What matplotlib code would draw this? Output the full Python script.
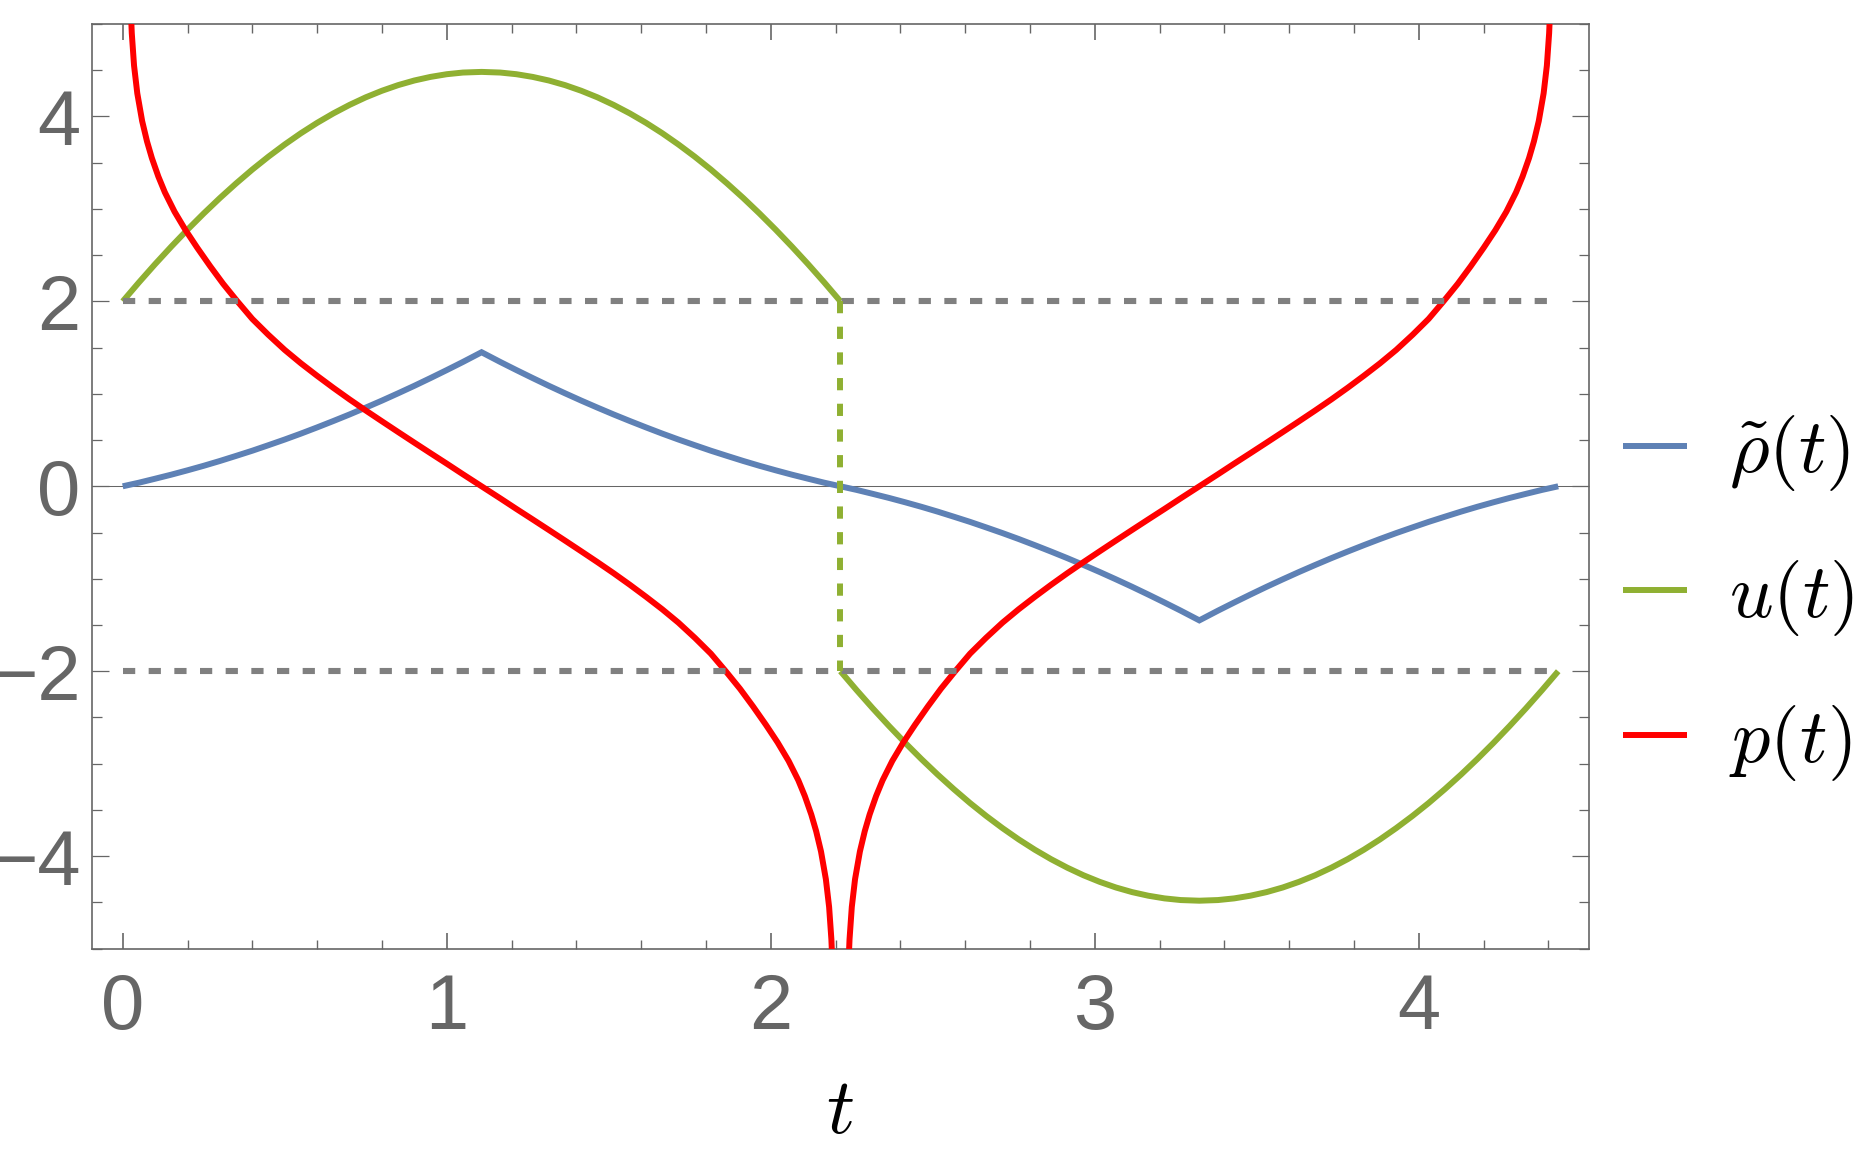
import matplotlib
matplotlib.use('Agg')
import matplotlib.pyplot as plt
from matplotlib.ticker import MultipleLocator
from matplotlib.lines import Line2D

# ---------------- data ----------------
# u(t), first half (t from 0 up to the jump)
u1_t = [0, 0.05, 0.10, 0.15, 0.20, 0.25, 0.30, 0.35, 0.40, 0.45, 0.50, 0.55,
        0.60, 0.65, 0.70, 0.75, 0.80, 0.85, 0.90, 0.95, 1.00, 1.05, 1.1075,
        1.165, 1.215, 1.265, 1.315, 1.365, 1.415, 1.465, 1.515, 1.565, 1.615,
        1.665, 1.715, 1.765, 1.815, 1.865, 1.915, 1.965, 2.015, 2.065, 2.115,
        2.165, 2.215]
u1 = [2.0, 2.205, 2.403, 2.593, 2.776, 2.951, 3.118, 3.276, 3.426, 3.566,
      3.697, 3.819, 3.931, 4.033, 4.125, 4.207, 4.278, 4.339, 4.389, 4.428,
      4.457, 4.475, 4.482,
      4.475, 4.457, 4.428, 4.389, 4.339, 4.278, 4.207, 4.125, 4.033, 3.931,
      3.819, 3.697, 3.566, 3.426, 3.276, 3.118, 2.951, 2.776, 2.593, 2.403,
      2.205, 2.0]
# u(t), second half
u2_t = [2.215, 2.265, 2.315, 2.365, 2.415, 2.465, 2.515, 2.565, 2.615, 2.665,
        2.715, 2.765, 2.815, 2.865, 2.915, 2.965, 3.015, 3.065, 3.115, 3.165,
        3.215, 3.265, 3.3225,
        3.38, 3.43, 3.48, 3.53, 3.58, 3.63, 3.68, 3.73, 3.78, 3.83, 3.88,
        3.93, 3.98, 4.03, 4.08, 4.13, 4.18, 4.23, 4.28, 4.33, 4.38, 4.43]
u2 = [-2.0, -2.205, -2.403, -2.593, -2.776, -2.951, -3.118, -3.276, -3.426,
      -3.566, -3.697, -3.819, -3.931, -4.033, -4.125, -4.207, -4.278, -4.339,
      -4.389, -4.428, -4.457, -4.475, -4.482,
      -4.475, -4.457, -4.428, -4.389, -4.339, -4.278, -4.207, -4.125, -4.033,
      -3.931, -3.819, -3.697, -3.566, -3.426, -3.276, -3.118, -2.951, -2.776,
      -2.593, -2.403, -2.205, -2.0]

# rho~(t) (same time samples as u)
r1_t = u1_t
r1 = [0.0, 0.039, 0.082, 0.126, 0.173, 0.222, 0.274, 0.329, 0.385, 0.445,
      0.506, 0.570, 0.637, 0.706, 0.777, 0.851, 0.927, 1.006, 1.087, 1.171,
      1.257, 1.345, 1.45,
      1.345, 1.257, 1.171, 1.087, 1.006, 0.927, 0.851, 0.777, 0.706, 0.637,
      0.570, 0.506, 0.445, 0.385, 0.329, 0.274, 0.222, 0.173, 0.126, 0.082,
      0.039, 0.0]
r2_t = u2_t
r2 = [0.0, -0.039, -0.082, -0.126, -0.173, -0.222, -0.274, -0.329, -0.385,
      -0.445, -0.506, -0.570, -0.637, -0.706, -0.777, -0.851, -0.927, -1.006,
      -1.087, -1.171, -1.257, -1.345, -1.45,
      -1.345, -1.257, -1.171, -1.087, -1.006, -0.927, -0.851, -0.777, -0.706,
      -0.637, -0.570, -0.506, -0.445, -0.385, -0.329, -0.274, -0.222, -0.173,
      -0.126, -0.082, -0.039, 0.0]

# p(t), first branch (from +inf near t=0 down to -inf near the jump)
p1_t = [0.018, 0.022, 0.028, 0.035, 0.045, 0.06, 0.075, 0.09, 0.11, 0.13,
        0.16, 0.194, 0.23, 0.27, 0.31, 0.354, 0.40, 0.449, 0.50, 0.55, 0.60,
        0.65, 0.70, 0.75, 0.80, 0.85, 0.90, 0.95, 1.00, 1.05, 1.1075,
        1.165, 1.215, 1.265, 1.315, 1.365, 1.415, 1.465, 1.515, 1.565, 1.615,
        1.665, 1.715, 1.766, 1.815, 1.861, 1.905, 1.945, 1.985, 2.021, 2.055,
        2.085, 2.105, 2.125, 2.14, 2.155, 2.17, 2.18, 2.187, 2.193, 2.197]
p1 = [6.0, 5.4, 4.9, 4.55, 4.25, 3.95, 3.73, 3.55, 3.35, 3.18,
      2.97, 2.77, 2.58, 2.38, 2.19, 2.0, 1.81, 1.64, 1.475, 1.33, 1.195,
      1.065, 0.94, 0.82, 0.703, 0.587, 0.472, 0.358, 0.245, 0.13, 0.0,
      -0.13, -0.245, -0.358, -0.472, -0.587, -0.703, -0.82, -0.94, -1.065,
      -1.195, -1.33, -1.475, -1.64, -1.81, -2.0, -2.19, -2.38, -2.58, -2.77,
      -2.97, -3.18, -3.35, -3.55, -3.73, -3.95, -4.25, -4.55, -4.9, -5.4, -6.0]
# p(t), second branch
p2_t = [2.233, 2.237, 2.243, 2.25, 2.26, 2.275, 2.29, 2.305, 2.325, 2.345,
        2.375, 2.409, 2.445, 2.485, 2.525, 2.569, 2.615, 2.664, 2.715, 2.765,
        2.815, 2.865, 2.915, 2.965, 3.015, 3.065, 3.115, 3.165, 3.215, 3.265,
        3.3225,
        3.38, 3.43, 3.48, 3.53, 3.58, 3.63, 3.68, 3.73, 3.78, 3.83, 3.88,
        3.93, 3.981, 4.03, 4.076, 4.12, 4.16, 4.20, 4.236, 4.27, 4.30, 4.32,
        4.34, 4.355, 4.37, 4.385, 4.395, 4.402, 4.408, 4.412]
p2 = [-6.0, -5.4, -4.9, -4.55, -4.25, -3.95, -3.73, -3.55, -3.35, -3.18,
      -2.97, -2.77, -2.58, -2.38, -2.19, -2.0, -1.81, -1.64, -1.475, -1.33,
      -1.195, -1.065, -0.94, -0.82, -0.703, -0.587, -0.472, -0.358, -0.245,
      -0.13, 0.0,
      0.13, 0.245, 0.358, 0.472, 0.587, 0.703, 0.82, 0.94, 1.065, 1.195,
      1.33, 1.475, 1.64, 1.81, 2.0, 2.19, 2.38, 2.58, 2.77, 2.97, 3.18, 3.35,
      3.55, 3.73, 3.95, 4.25, 4.55, 4.9, 5.4, 6.0]

ref_levels = [2, -2]
legend_labels = [r'$\tilde{\rho}(t)$', r'$u(t)$', r'$p(t)$']

# ---------------- style ----------------
BLUE = '#5E81B5'
GREEN = '#8FB032'
RED = '#FF0000'
GRAY = '#808080'
FRAME = '#666666'
LW = 4.3

plt.rcParams['mathtext.fontset'] = 'cm'
plt.rcParams['font.family'] = ['Liberation Sans', 'DejaVu Sans']

fig = plt.figure(figsize=(18.54, 11.53), dpi=100)
ax = fig.add_axes([0.04946, 0.17728, 0.8076, 0.8019])
ax.set_xlim(-0.0957, 4.525)
ax.set_ylim(-5, 5)

# axis line at y = 0
ax.axhline(0, color=FRAME, lw=0.75, zorder=1)

# curves
ax.plot(r1_t, r1, color=BLUE, lw=LW, solid_joinstyle='miter', solid_capstyle='butt', zorder=2)
ax.plot(r2_t, r2, color=BLUE, lw=LW, solid_joinstyle='miter', solid_capstyle='butt', zorder=2)
ax.plot(u1_t, u1, color=GREEN, lw=LW, solid_capstyle='butt', zorder=3)
ax.plot(u2_t, u2, color=GREEN, lw=LW, solid_capstyle='butt', zorder=3)
ax.plot(p1_t, p1, color=RED, lw=LW, solid_capstyle='butt', zorder=4)
ax.plot(p2_t, p2, color=RED, lw=LW, solid_capstyle='butt', zorder=4)

# dashed reference lines
t_end = u2_t[-1]
for lvl in ref_levels:
    ax.plot([u1_t[0], t_end], [lvl, lvl], color=GRAY, lw=4.4,
            linestyle=(0, (2.0, 2.2)), zorder=5)
# dashed vertical jump of u
ax.plot([u1_t[-1], u2_t[0]], [u1[-1], u2[0]], color=GREEN, lw=4.3,
        linestyle=(0, (2.05, 2.25)), zorder=6)

# ticks
ax.xaxis.set_major_locator(MultipleLocator(1))
ax.xaxis.set_minor_locator(MultipleLocator(0.2))
ax.yaxis.set_major_locator(MultipleLocator(2))
ax.yaxis.set_minor_locator(MultipleLocator(0.5))
ax.tick_params(axis='both', which='both', direction='in', top=True, right=True,
               color=FRAME, labelcolor=FRAME, labelsize=56)
ax.tick_params(axis='x', which='major', length=11.3, width=1.2, pad=16.5)
ax.tick_params(axis='x', which='minor', length=6.3, width=1.0)
ax.tick_params(axis='y', which='major', length=12, width=0.9, pad=8)
ax.tick_params(axis='y', which='minor', length=6.9, width=0.9)
for sp in ax.spines.values():
    sp.set_color(FRAME)
    sp.set_linewidth(1.2)

# x label
ax.set_xlabel(r'$t$', fontsize=56)
ax.xaxis.set_label_coords(0.5, -0.1994)
ax.xaxis.label.set_va('baseline')

# legend
handles = [Line2D([], [], color=c, lw=LW, solid_capstyle='butt') for c in (BLUE, GREEN, RED)]
ax.legend(handles, legend_labels, loc='center left', bbox_to_anchor=(1.0227, 0.379),
          frameon=False, fontsize=55, handlelength=0.84, handletextpad=0.55,
          labelspacing=0.85, borderpad=0, borderaxespad=0)

fig.savefig('out.png', dpi=100)
